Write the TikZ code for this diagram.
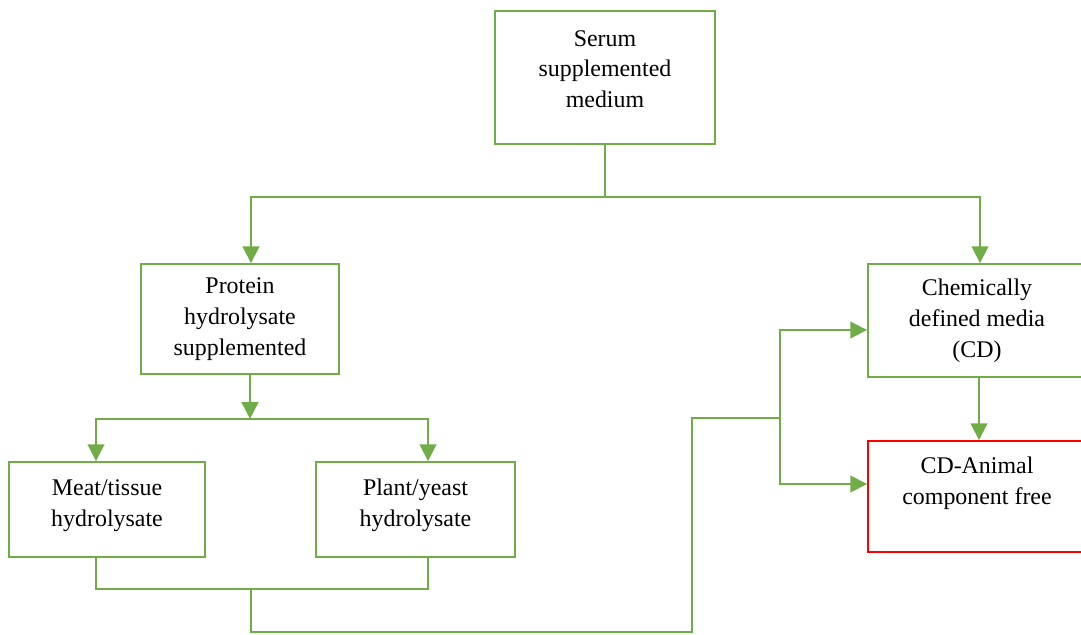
\documentclass[tikz,border=0pt]{standalone}
\usepackage{fontspec}
\setmainfont{Liberation Serif}
\usepackage{tikz}
\usetikzlibrary{arrows.meta,calc,positioning}

\definecolor{officegreen}{HTML}{70AD47}
\definecolor{alertred}{HTML}{FF0000}

\begin{document}
\begin{tikzpicture}[x=0.025cm,y=-0.025cm,
    box/.style={draw=officegreen,line width=1.3pt,align=center,
      font=\fontsize{17}{22}\selectfont,inner sep=2pt},
    conn/.style={draw=officegreen,line width=1.3pt},
    arr/.style={conn,-{Triangle[width=0.42cm,length=0.42cm]}}]
  \useasboundingbox (0,0) rectangle (1081,635);
  % boxes
  \node[box,minimum width=5.5cm,minimum height=3.325cm] (serum) at (605,77.5) {Serum\\supplemented\\medium\\[-10pt]};
  \node[box,minimum width=4.95cm,minimum height=2.75cm] (protein) at (240,319) {Protein\\hydrolysate\\supplemented};
  \node[box,minimum width=4.9cm,minimum height=2.375cm] (meat) at (107,509.5) {Meat/tissue\\hydrolysate\\[-13pt]};
  \node[box,minimum width=4.975cm,minimum height=2.375cm] (plant) at (415.5,509.5) {Plant/yeast\\hydrolysate\\[-13pt]};
  \node[box,minimum width=5.45cm,minimum height=2.825cm] (chem) at (977,320.5) {Chemically\\defined media\\(CD)};
  \node[box,draw=alertred,minimum width=5.45cm,minimum height=2.775cm] (cdaf) at (977,496.5) {CD-Animal\\component free\\~};
  % connectors
  \draw[conn] (serum.south) -- ++(0,52) coordinate (split);
  \draw[arr] (split) -| ($(protein.north)+(11,0)$);
  \draw[arr] (split) -| ($(chem.north)+(3,0)$);
  \draw[arr] ($(protein.south)+(10,0)$) -- ++(0,44) coordinate (fork);
  \draw[arr] (fork) -| ($(meat.north)+(-11,0)$);
  \draw[arr] (fork) -| ($(plant.north)+(12.5,0)$);
  \draw[conn] ($(meat.south)+(-11,0)$) -- ++(0,31) coordinate (lowleft) -| ($(plant.south)+(12.5,0)$);
  \coordinate (merge) at (251,588);
  \draw[conn] (merge) -- (251,632) -| (692,418) -- (780,418) coordinate (feed);
  \draw[arr] (feed) |- ($(chem.west)+(0,9.5)$);
  \draw[arr] (feed) |- ($(cdaf.west)+(0,-12.5)$);
  \draw[arr] ($(chem.south)+(2,0)$) -- ($(cdaf.north)+(2,0)$);
\end{tikzpicture}
\end{document}
